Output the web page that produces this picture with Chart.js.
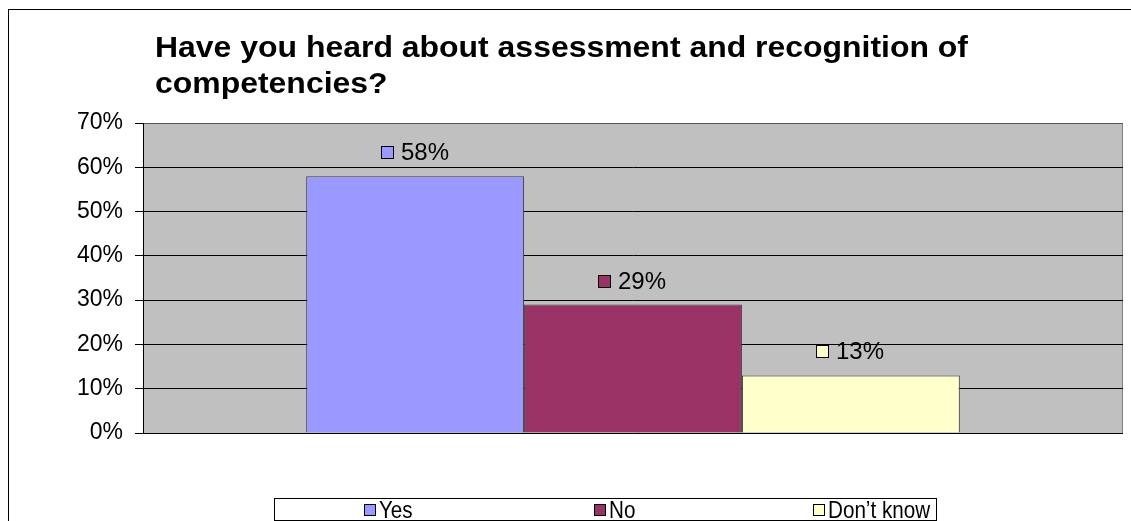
<!DOCTYPE html>
<html>
<head>
<meta charset="utf-8">
<script src="https://cdn.jsdelivr.net/npm/chart.js@4"></script>
<style>
html,body{margin:0;padding:0;background:#fff;}
canvas{display:block;}
</style>
</head>
<body>
<canvas id="c" width="1131" height="521"></canvas>
<script>
const titleLines = ["Have you heard about assessment and recognition of", "competencies?"];
const categories = [""];
const seriesNames = ["Yes", "No", "Don\u2019t know"];
const seriesValues = [[58], [29], [13]];
const seriesColors = ["#9999FF", "#993366", "#FFFFCC"];
const yTicks = [0, 10, 20, 30, 40, 50, 60, 70];

const FONT = "'Liberation Sans', Arial, sans-serif";

const decor = {
  id: 'decor',
  beforeDraw(chart) {
    const ctx = chart.ctx, a = chart.chartArea;
    ctx.save();
    ctx.fillStyle = '#fff';
    ctx.fillRect(0, 0, chart.width, chart.height);
    ctx.strokeStyle = '#000';
    ctx.lineWidth = 1;
    ctx.strokeRect(8.5, 9.5, 2000, 2000);
    ctx.fillStyle = '#C0C0C0';
    ctx.fillRect(a.left, a.top, a.right - a.left, a.bottom - a.top);
    ctx.strokeStyle = '#808080';
    ctx.strokeRect(a.left + 0.5, a.top + 0.5, a.right - a.left - 1, a.bottom - a.top);
    ctx.fillStyle = '#000';
    ctx.font = "bold 30px " + FONT;
    ctx.textBaseline = 'alphabetic';
    ctx.textAlign = 'left';
    const w0 = ctx.measureText(titleLines[0]).width;
    const sx = 813 / w0;
    titleLines.forEach((t, i) => {
      ctx.save();
      ctx.translate(155, 57 + i * 36);
      ctx.scale(sx, 1);
      ctx.fillText(t, 0, 0);
      ctx.restore();
    });
    ctx.restore();
  },
  afterDatasetsDraw(chart) {
    const ctx = chart.ctx;
    ctx.save();
    ctx.font = "24px " + FONT;
    ctx.textBaseline = 'middle';
    ctx.textAlign = 'left';
    chart.data.datasets.forEach((ds, i) => {
      const el = chart.getDatasetMeta(i).data[0];
      const txt = ds.data[0] + '%';
      const w = ctx.measureText(txt).width;
      const total = 13 + 8 + w;
      const x0 = Math.round(el.x - total / 2);
      const yc = Math.round(el.y - 24);
      ctx.fillStyle = ds.backgroundColor;
      ctx.fillRect(x0 + 0.5, yc - 6 + 0.5, 12, 12);
      ctx.strokeStyle = '#000';
      ctx.lineWidth = 1;
      ctx.strokeRect(x0 + 0.5, yc - 6 + 0.5, 12, 12);
      ctx.fillStyle = '#000';
      ctx.fillText(txt, x0 + 20, yc + 1);
    });
    ctx.restore();
  },
  afterDraw(chart) {
    const ctx = chart.ctx;
    ctx.save();
    ctx.fillStyle = '#fff';
    ctx.fillRect(274, 498, 662, 22);
    ctx.strokeStyle = '#000';
    ctx.lineWidth = 1;
    ctx.strokeRect(274.5, 498.5, 662, 22);
    const xs = [364, 594, 813];
    ctx.font = "24px " + FONT;
    ctx.textBaseline = 'middle';
    chart.data.datasets.forEach((ds, i) => {
      ctx.fillStyle = ds.backgroundColor;
      ctx.fillRect(xs[i] + 0.5, 504.5, 11, 11);
      ctx.strokeStyle = '#000';
      ctx.strokeRect(xs[i] + 0.5, 504.5, 11, 11);
      ctx.fillStyle = '#000';
      ctx.save();
      ctx.translate(xs[i] + 15, 511);
      ctx.scale(0.86, 1);
      ctx.fillText(ds.label, 0, 0);
      ctx.restore();
    });
    ctx.restore();
  }
};

new Chart(document.getElementById('c'), {
  type: 'bar',
  data: {
    labels: categories,
    datasets: seriesNames.map((n, i) => ({
      label: n,
      data: seriesValues[i],
      backgroundColor: seriesColors[i],
      borderColor: '#404040',
      borderWidth: 1,
      categoryPercentage: 0.667,
      barPercentage: 1.0
    }))
  },
  options: {
    responsive: false,
    animation: false,
    layout: { padding: { top: 123, left: 0, right: 8, bottom: 88 } },
    plugins: { legend: { display: false }, title: { display: false }, tooltip: { enabled: false } },
    scales: {
      x: { display: false },
      y: {
        min: 0, max: 70,
        afterFit(s) { s.width = 143; },
        afterBuildTicks(s) { s.ticks = yTicks.map(v => ({ value: v })); },
        ticks: {
          color: '#000',
          font: { family: FONT, size: 23 },
          padding: 12,
          callback: v => v + '%'
        },
        grid: {
          color: ctx => (ctx.tick && ctx.tick.value === 70) ? '#555' : '#000',
          lineWidth: 1,
          drawTicks: true,
          tickLength: 8,
          tickColor: '#000'
        },
        border: { display: true, color: '#000', width: 1 }
      }
    }
  },
  plugins: [decor]
});
</script>
</body>
</html>
